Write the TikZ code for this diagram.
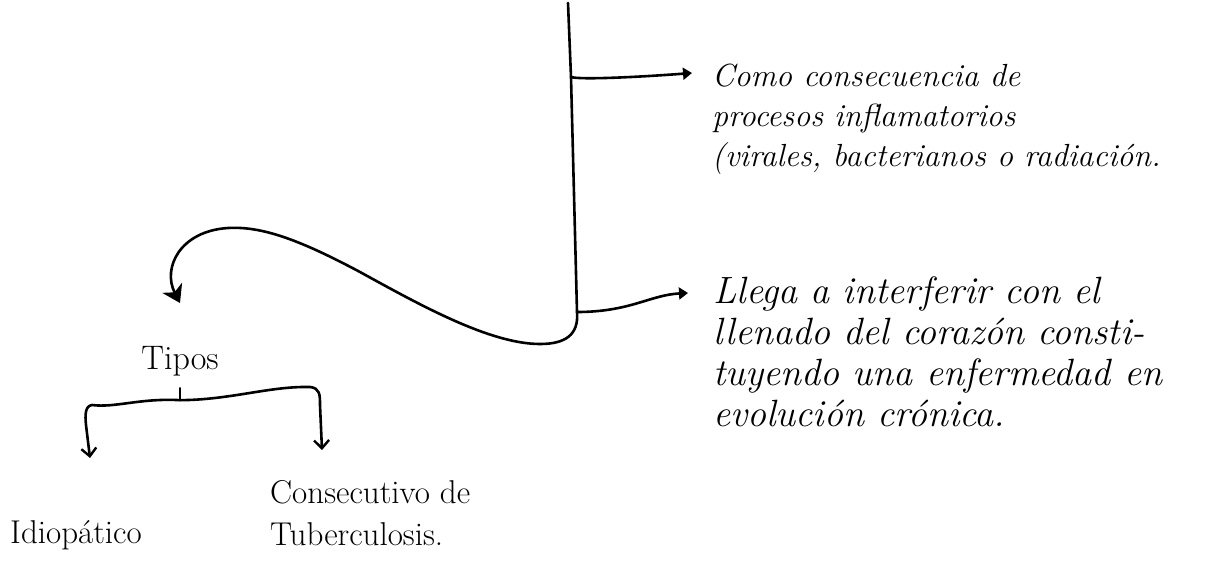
\documentclass[tikz,border=0pt]{standalone}
\usepackage{fontspec}
\usepackage{tikz}
\usetikzlibrary{arrows.meta,calc,positioning}

\begin{document}
\begin{tikzpicture}[x=1pt,y=-1pt,
pen/.style={line width=2.6pt,line cap=round,line join=round},
filltip/.style={pen,-{Triangle[length=9pt,width=12pt]}},
bigtip/.style={pen,-{Stealth[length=17pt,width=22pt,inset=5pt]}},
opentip/.style={pen,-{Straight Barb[length=8pt,width=15pt,line width=2.4pt]}},
notes/.style={anchor=north west,inner sep=0pt,align=left},
kinds/.style={inner sep=0pt,align=left,font=\fontsize{33}{42}\selectfont}]
\useasboundingbox (0,0) rectangle (1218,562);
\node[notes,font=\fontsize{32}{40}\selectfont\itshape] (cons) at (712,64) {Como consecuencia de\\procesos inflamatorios\\(virales, bacterianos o radiación.};
\node[notes,font=\fontsize{38}{41}\selectfont\itshape] (llega) at (713,277) {Llega a interferir con el\\llenado del corazón consti-\\tuyendo una enfermedad en\\evolución crónica.};
\node[inner sep=0pt,anchor=north,font=\fontsize{34}{40}\selectfont] (tipos) at (180,346) {Tipos};
\node[kinds,anchor=north west] (idio) at (10,520) {Idiopático};
\node[kinds,anchor=north west] (consec) at (270,480) {Consecutivo de\\Tuberculosis.};
\coordinate (top) at (568,3);
\coordinate (b1) at (571,77);
\coordinate (b2) at (577,312);
\coordinate (dn) at ([yshift=43pt]tipos.north);
\coordinate (j) at ([yshift=-24pt]tipos.south);
\coordinate (al) at ([shift={(80pt,62pt)}]idio.north west);
\coordinate (ar) at ([shift={(52pt,30pt)}]consec.north west);
\draw[bigtip] (top) -- (b1) -- (b2) .. controls (579,335) and (565,344) .. (540,344) .. controls (490,344) and (420,305) .. (360,272) .. controls (300,240) and (262,226) .. (228,228) .. controls (180,231) and (162,268) .. (dn);
\draw[filltip] (b1) .. controls (580,80) and (640,77) .. ([shift={(-20pt,-9pt)}]cons.north west);
\draw[filltip] (b2) .. controls (630,312) and (650,295) .. ([shift={(-25pt,-16pt)}]llega.north west);
\draw[pen] ([yshift=-12pt]tipos.south) -- (j);
\draw[opentip] (j) .. controls (140,398) and (115,408) .. (92,405) .. controls (85,406) and (85,415) .. (86,425) -- (al);
\draw[opentip] (j) .. controls (230,400) and (270,386) .. (310,387) .. controls (320,388) and (320,395) .. (320,405) -- (ar);
\end{tikzpicture}
\end{document}
